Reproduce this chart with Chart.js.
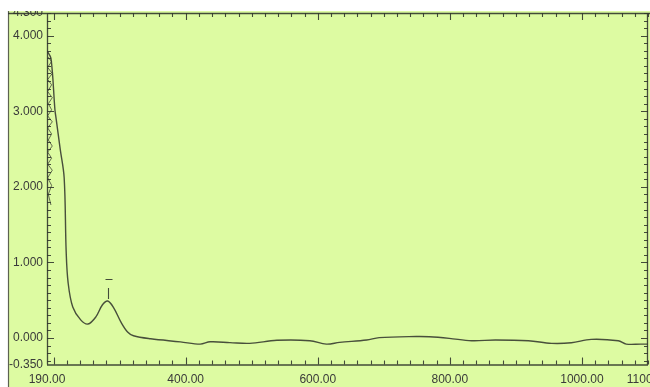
<!DOCTYPE html>
<html>
<head>
<meta charset="utf-8">
<script src="https://cdn.jsdelivr.net/npm/chart.js@4/dist/chart.umd.min.js"></script>
<style>
  html, body { margin: 0; padding: 0; background: #ffffff; overflow: hidden; }
  #wrap { position: absolute; left: 0; top: 11px; width: 650px; height: 376px; }
</style>
</head>
<body>
<div id="wrap"><canvas id="spec"></canvas></div>
<script>
// UV-Vis absorbance spectrum, wavelength in nm
const wavelengths = [190, 196, 202, 204, 210, 216, 219, 222, 229, 241, 252, 264, 274, 282, 291, 302, 312, 321, 347, 392,
                     422, 437, 467, 497, 538, 588, 613, 633, 674, 693, 749, 769, 799, 833, 869, 919, 954, 984, 1014, 1055,
                     1067, 1089, 1100];
const absorbance  = [3.80, 3.70, 3.02, 2.89, 2.50, 2.12, 1.15, 0.73, 0.41, 0.24, 0.185, 0.28, 0.44, 0.49, 0.40, 0.21, 0.08, 0.03, -0.01, -0.05,
                     -0.08, -0.05, -0.06, -0.07, -0.03, -0.035, -0.08, -0.057, -0.026, 0.005, 0.02, 0.017, -0.004, -0.036, -0.026, -0.036, -0.07, -0.062, -0.017, -0.036,
                     -0.08, -0.08, -0.08];

// detector noise trace at the short-wavelength end
const noiseWl  = [191, 197, 191, 198, 191, 197, 191, 198, 192, 197, 191, 198, 191, 197, 192, 198, 191, 197, 191, 198, 191, 197, 192, 196];
const noiseAbs = [3.72, 3.66, 3.58, 3.50, 3.42, 3.35, 3.26, 3.18, 3.10, 3.02, 2.94, 2.86, 2.78, 2.70, 2.62, 2.54, 2.46, 2.38, 2.30, 2.22, 2.12, 2.02, 1.90, 1.76];

const xTickValues = [190, 400, 600, 800, 1000, 1100];
const yTickValues = [-0.35, 0, 1, 2, 3, 4, 4.3];

const X_MIN = 190, X_MAX = 1100, Y_MIN = -0.35, Y_MAX = 4.3;

const paper = 'rgb(221, 251, 162)';
const ink = 'rgba(55, 60, 48, 0.9)';
const textInk = '#3a3a3a';

// paper, frame and inward tick marks
const framePlugin = {
  id: 'frame',
  beforeDraw(chart) {
    const { ctx, width, height } = chart;
    ctx.save();
    ctx.fillStyle = '#ffffff';
    ctx.fillRect(0, 0, width, height);
    ctx.fillStyle = paper;
    ctx.fillRect(8, 0, width - 8, height);
    ctx.strokeStyle = 'rgba(60,60,60,0.8)';
    ctx.lineWidth = 1.2;
    ctx.beginPath();
    ctx.moveTo(8.5, 0); ctx.lineTo(8.5, height);
    ctx.stroke();
    ctx.restore();
  },
  afterDatasetsDraw(chart) {
    const { ctx, chartArea: a, scales: { x, y } } = chart;
    ctx.save();
    ctx.strokeStyle = 'rgba(50,55,45,0.9)';
    ctx.lineWidth = 1.3;
    ctx.beginPath();
    // axes
    ctx.moveTo(8, a.top + 0.5); ctx.lineTo(chart.width, a.top + 0.5);
    ctx.moveTo(a.left + 0.5, a.top); ctx.lineTo(a.left + 0.5, a.bottom);
    ctx.moveTo(a.left, a.bottom + 0.5); ctx.lineTo(a.right, a.bottom + 0.5);
    ctx.moveTo(a.right - 0.5, a.top); ctx.lineTo(a.right - 0.5, a.bottom);
    ctx.stroke();

    ctx.lineWidth = 1.1;
    ctx.beginPath();
    for (let w = 200; w <= X_MAX; w += 20) {
      const px = Math.round(x.getPixelForValue(w)) + 0.5;
      const len = (w % 200 === 0) ? 7 : 4;
      ctx.moveTo(px, a.bottom); ctx.lineTo(px, a.bottom - len);
      ctx.moveTo(px, a.top); ctx.lineTo(px, a.top + len);
    }
    for (let k = -3; k <= 43; k++) {
      const v = k / 10;
      const py = Math.round(y.getPixelForValue(v)) + 0.5;
      const len = (k % 10 === 0) ? 7 : 4;
      ctx.moveTo(a.left, py); ctx.lineTo(a.left + len, py);
      ctx.moveTo(a.right, py); ctx.lineTo(a.right - len, py);
    }
    ctx.stroke();

    // peak marker above the absorption maximum near 280 nm
    let peak = 0;
    for (let i = 0; i < wavelengths.length; i++) {
      if (wavelengths[i] > 250 && wavelengths[i] < 350 && absorbance[i] > absorbance[peak]) peak = i;
      if (wavelengths[i] <= 250) peak = i + 1;
    }
    const pxp = Math.round(x.getPixelForValue(wavelengths[peak])) + 0.5;
    const pyp = y.getPixelForValue(absorbance[peak]);
    ctx.beginPath();
    ctx.moveTo(pxp, pyp - 2); ctx.lineTo(pxp, pyp - 13);
    ctx.moveTo(pxp - 3, pyp - 21.5); ctx.lineTo(pxp + 4, pyp - 21.5);
    ctx.stroke();
    ctx.restore();
  }
};

new Chart(document.getElementById('spec'), {
  type: 'line',
  data: {
    datasets: [
      {
        label: 'Absorbance',
        data: wavelengths.map((w, i) => ({ x: w, y: absorbance[i] })),
        borderColor: ink,
        borderWidth: 1.4,
        pointRadius: 0,
        tension: 0.35,
        fill: false
      },
      {
        label: 'Noise',
        data: noiseWl.map((w, i) => ({ x: w, y: noiseAbs[i] })),
        borderColor: 'rgba(55, 60, 48, 0.75)',
        borderWidth: 1,
        pointRadius: 0,
        tension: 0,
        fill: false
      }
    ]
  },
  options: {
    responsive: true,
    maintainAspectRatio: false,
    animation: false,
    layout: { padding: { top: 2, right: 2, left: 0, bottom: 0 } },
    plugins: { legend: { display: false }, tooltip: { enabled: false } },
    scales: {
      x: {
        type: 'linear',
        min: X_MIN, max: X_MAX,
        border: { display: false },
        grid: { display: false, drawTicks: false },
        afterBuildTicks(scale) { scale.ticks = xTickValues.map(v => ({ value: v })); },
        afterFit(scale) {
          scale.height = 22.5;
          scale.paddingLeft = scale.paddingRight = scale.paddingTop = scale.paddingBottom = 0;
        },
        ticks: {
          padding: 8,
          maxRotation: 0,
          autoSkip: false,
          color: textInk,
          font: { family: 'Liberation Sans, Arial, sans-serif', size: 12 },
          callback: v => Number(v).toFixed(2)
        }
      },
      y: {
        type: 'linear',
        min: Y_MIN, max: Y_MAX,
        border: { display: false },
        grid: { display: false, drawTicks: false },
        afterBuildTicks(scale) { scale.ticks = yTickValues.map(v => ({ value: v })); },
        afterFit(scale) {
          scale.width = 47;
          scale.paddingLeft = scale.paddingRight = scale.paddingTop = scale.paddingBottom = 0;
        },
        ticks: {
          padding: 4,
          autoSkip: false,
          color: textInk,
          font: { family: 'Liberation Sans, Arial, sans-serif', size: 12 },
          callback: v => Number(v).toFixed(3)
        }
      }
    }
  },
  plugins: [framePlugin]
});
</script>
</body>
</html>
